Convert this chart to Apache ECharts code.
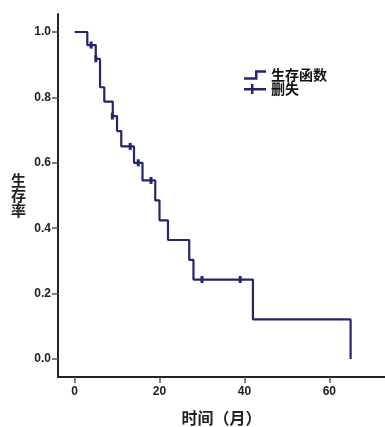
<!DOCTYPE html>
<html>
<head>
<meta charset="utf-8">
<script src="https://cdn.jsdelivr.net/npm/echarts@6/dist/echarts.min.js"></script>
<style>
html,body{margin:0;padding:0;background:#ffffff;}
#c{width:385px;height:427px;}
</style>
</head>
<body>
<div id="c"></div>
<script>
// Kaplan-Meier step points (time in months, survival probability)
var stepTimes = [0, 3, 5, 6, 7, 9, 10, 11, 14, 16, 19, 20, 22, 27, 28, 42, 65];
var stepSurvival = [1.0, 0.96, 0.918, 0.831, 0.787, 0.743, 0.697, 0.650, 0.600, 0.546, 0.485, 0.424, 0.364, 0.303, 0.243, 0.121, 0.0];
// Censored observations
var censorTimes = [3.9, 5.0, 8.9, 13.1, 15.0, 18.0, 30.0, 39.0];
var censorSurvival = [0.96, 0.918, 0.743, 0.650, 0.600, 0.546, 0.243, 0.243];
// Tick labels
var xTicks = [0, 20, 40, 60];
var yTicks = [0.0, 0.2, 0.4, 0.6, 0.8, 1.0];
var seriesNames = ['生存函数', '删失'];
var xTitle = '时间（月）';
var yTitle = '生存率';

var navy = '#25256f';
var stepData = stepTimes.map(function (t, i) { return [t, stepSurvival[i]]; });
var censorData = censorTimes.map(function (t, i) { return [t, censorSurvival[i]]; });

var chart = echarts.init(document.getElementById('c'), null, {renderer: 'canvas'});
var labelFont = {color: '#222', fontSize: 12, fontWeight: 'bold', fontFamily: '"Liberation Sans", Arial, sans-serif'};
chart.setOption({
  backgroundColor: '#ffffff',
  animation: false,
  grid: {left: 58, top: 14, right: 0, bottom: 50, containLabel: false, outerBoundsMode: 'none'},
  legend: {
    left: 239, top: 63, orient: 'vertical', itemGap: 0,
    itemWidth: 22, itemHeight: 10,
    textStyle: {color: '#111', fontSize: 14, fontWeight: 'bold', fontFamily: '"Noto Sans CJK SC", sans-serif'},
    data: [
      {name: seriesNames[0], icon: 'path://M0,7 L11,7 L11,0 L22,0 L22,2.5 L13.5,2.5 L13.5,9.5 L0,9.5 Z', itemStyle: {color: navy, opacity: 1}},
      {name: seriesNames[1], icon: 'path://M0,4 L7,4 L7,0 L9.5,0 L9.5,4 L22,4 L22,6.5 L9.5,6.5 L9.5,10 L7,10 L7,6.5 L0,6.5 Z', itemStyle: {color: navy, opacity: 1}}
    ]
  },
  xAxis: {
    type: 'value', min: -3.9, max: 73.1,
    name: xTitle, nameLocation: 'middle', nameGap: 33,
    nameTextStyle: {color: '#222', fontSize: 16, fontWeight: 'bold', fontFamily: '"Noto Sans CJK SC", sans-serif'},
    splitLine: {show: false},
    axisLine: {show: true, onZero: false, lineStyle: {color: '#222', width: 2}},
    axisTick: {show: true, length: 6, customValues: xTicks, lineStyle: {color: '#555', width: 1.5}},
    axisLabel: Object.assign({margin: 9, customValues: xTicks}, labelFont)
  },
  yAxis: {
    type: 'value', min: -0.055, max: 1.055,
    name: yTitle.split('').join('\n'), nameLocation: 'middle', nameGap: 32, nameRotate: 0,
    nameTextStyle: {color: '#222', fontSize: 15, lineHeight: 15, fontWeight: 'bold', fontFamily: '"Noto Sans CJK SC", sans-serif'},
    splitLine: {show: false},
    axisLine: {show: true, onZero: false, lineStyle: {color: '#222', width: 2}},
    axisTick: {show: true, length: 6, customValues: yTicks, lineStyle: {color: '#555', width: 1.5}},
    axisLabel: Object.assign({margin: 7, customValues: yTicks, formatter: function (v) { return v.toFixed(1); }}, labelFont)
  },
  series: [
    {
      name: seriesNames[0], type: 'line', step: 'end', data: stepData,
      showSymbol: false, symbol: 'none',
      lineStyle: {color: navy, width: 2.2}, itemStyle: {color: navy}, z: 2
    },
    {
      name: seriesNames[1], type: 'scatter', data: censorData,
      symbol: 'rect', symbolSize: [3, 7],
      itemStyle: {color: navy, opacity: 1}, z: 3
    }
  ]
});
</script>
</body>
</html>
